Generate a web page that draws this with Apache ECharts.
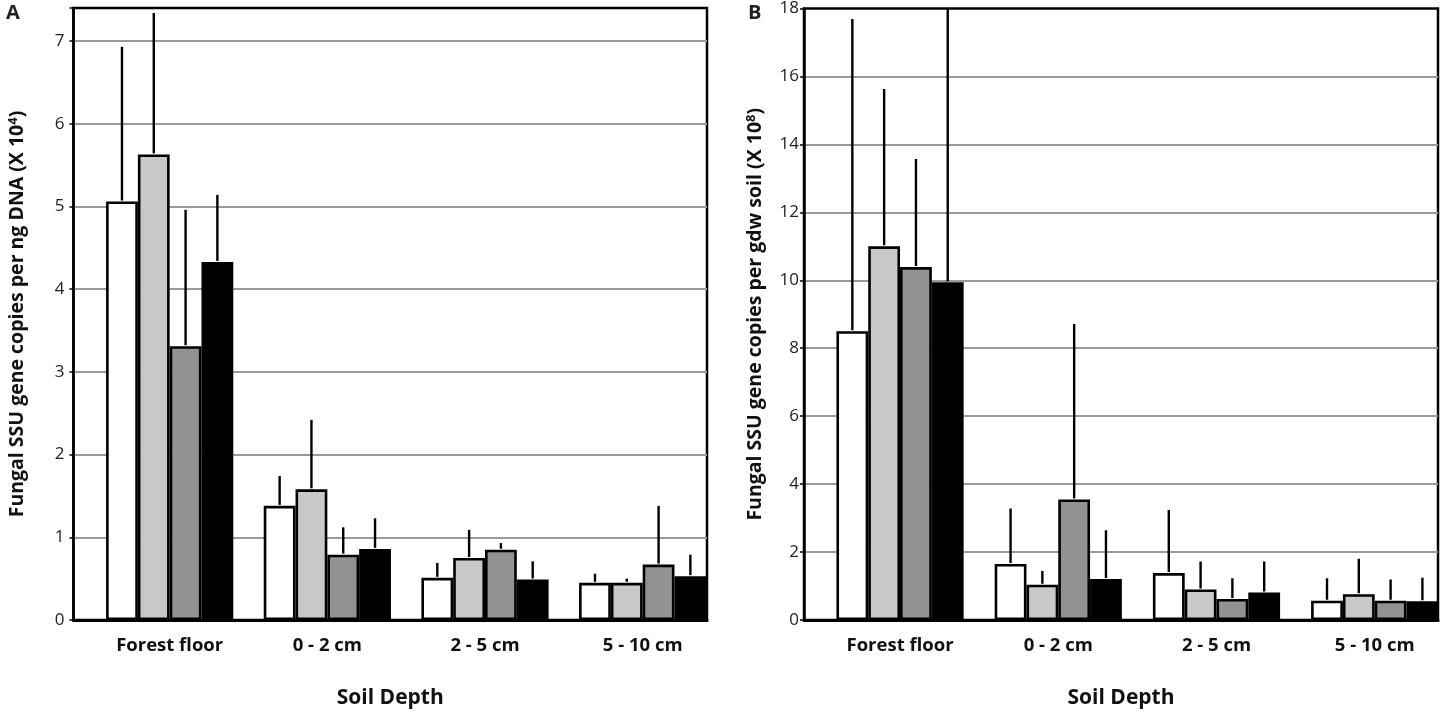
<!DOCTYPE html>
<html>
<head>
<meta charset="utf-8">
<script src="https://cdn.jsdelivr.net/npm/echarts@6/dist/echarts.min.js"></script>
<style>
  html, body { margin: 0; padding: 0; background: #fff; }
  #chart { width: 1440px; height: 714px; }
</style>
</head>
<body>
<div id="chart"></div>
<script>
// Catégories (profondeur du sol)
const categories = ['Forest floor', '0 - 2 cm', '2 - 5 cm', '5 - 10 cm'];
const yTicksA = [0, 1, 2, 3, 4, 5, 6, 7];
const yTicksB = [0, 2, 4, 6, 8, 10, 12, 14, 16, 18];

// Panneau A : copies par ng ADN (x 10^4)
const aWhite = [5.06, 1.38, 0.51, 0.45];
const aLight = [5.63, 1.58, 0.75, 0.45];
const aDark = [3.31, 0.79, 0.85, 0.67];
const aBlack = [4.33, 0.86, 0.49, 0.53];
const aWhiteErr = [1.87, 0.36, 0.18, 0.11];
const aLightErr = [1.71, 0.84, 0.34, 0.05];
const aDarkErr = [1.65, 0.33, 0.08, 0.71];
const aBlackErr = [0.81, 0.37, 0.22, 0.26];

// Panneau B : copies par g de sol sec (x 10^8)
const bWhite = [8.50, 1.65, 1.38, 0.57];
const bLight = [11.00, 1.04, 0.90, 0.76];
const bDark = [10.39, 3.55, 0.62, 0.57];
const bBlack = [9.94, 1.21, 0.81, 0.55];
const bWhiteErr = [9.19, 1.63, 1.86, 0.66];
const bLightErr = [4.63, 0.40, 0.82, 1.04];
const bDarkErr = [3.18, 5.16, 0.61, 0.62];
const bBlackErr = [9.50, 1.43, 0.91, 0.69];

const chart = echarts.init(document.getElementById('chart'));

const BAR_W = 31.8;
const colors = ['#ffffff', '#c8c8c8', '#929292', '#000000'];
const FONT = '"Open Sans", "Noto Sans", sans-serif';

function barSeries(values, k, idx) {
    return {
        type: 'bar',
        name: 'S' + (k + 1),
        xAxisIndex: idx,
        yAxisIndex: idx,
        barWidth: BAR_W,
        barGap: '0%',
        data: values.map((v, i) => [i, v]),
        itemStyle: { color: colors[k], borderColor: '#000', borderWidth: 2.6 },
        emphasis: { disabled: true },
        z: 2
    };
}

function errorSeries(groups, idx) {
    const data = [];
    groups.forEach((g, k) => {
        g[0].forEach((v, i) => data.push([i, v, g[1][i], k]));
    });
    return {
        type: 'custom',
        xAxisIndex: idx,
        yAxisIndex: idx,
        clip: true,
        z: 3,
        data: data,
        renderItem: (params, api) => {
            const x = api.value(0), v = api.value(1), e = api.value(2), k = api.value(3);
            const p0 = api.coord([x, v]);
            const p1 = api.coord([x, v + e]);
            const dx = (k - 1.5) * BAR_W;
            return {
                type: 'line',
                shape: { x1: p0[0] + dx, y1: p0[1] - 1, x2: p0[0] + dx, y2: p1[1] },
                style: { stroke: '#000', lineWidth: 2.4 }
            };
        }
    };
}

function xAxisDef(idx, min, max) {
    return {
        type: 'value',
        gridIndex: idx,
        min: min,
        max: max,
        name: 'Soil Depth',
        nameLocation: 'middle',
        nameGap: 68,
        nameTextStyle: { fontFamily: FONT, fontWeight: 'bold', fontSize: 21, color: '#111' },
        axisLine: { show: true, onZero: false, lineStyle: { color: '#000', width: 3 } },
        axisTick: { show: false },
        splitLine: { show: false },
        axisLabel: {
            customValues: [0, 1, 2, 3],
            formatter: v => categories[Math.round(v)],
            fontFamily: FONT, fontWeight: 'bold', fontSize: 18.5, color: '#111', margin: 16
        }
    };
}

function yAxisDef(idx, max, interval, ticks, name, gap, margin) {
    return {
        type: 'value',
        gridIndex: idx,
        min: 0,
        max: max,
        interval: interval,
        name: name,
        nameLocation: 'middle',
        nameGap: gap,
        nameTextStyle: {
            rich: {
                b: { fontFamily: FONT, fontWeight: 'bold', fontSize: 19.5, color: '#111' },
                sup: { fontFamily: FONT, fontWeight: 'bold', fontSize: 13, color: '#111', verticalAlign: 'top', padding: [0, 0, 8, 0] }
            }
        },
        axisLine: { show: true, onZero: false, lineStyle: { color: '#000', width: 2.5 } },
        axisTick: { show: true, length: 4, lineStyle: { color: '#000', width: 1.5 } },
        splitLine: { show: true, showMinLine: false, showMaxLine: false, lineStyle: { color: '#9a9a9a', width: 2 } },
        axisLabel: {
            formatter: v => (ticks.indexOf(v) >= 0 ? String(v) : ''),
            fontFamily: FONT, fontSize: 17, color: '#222', margin: margin
        }
    };
}

const option = {
    animation: false,
    grid: [
        { left: 73.5, top: 8, width: 633.5, height: 613.7, show: true, borderColor: '#000', borderWidth: 2.5, backgroundColor: 'transparent' },
        { left: 804, top: 8, width: 634, height: 613.7, show: true, borderColor: '#000', borderWidth: 2.5, backgroundColor: 'transparent' }
    ],
    xAxis: [
        xAxisDef(0, -0.610, 3.408),
        xAxisDef(1, -0.607, 3.400)
    ],
    yAxis: [
        yAxisDef(0, 7.4, 1, yTicksA, '{b|Fungal SSU gene copies per ng DNA (X 10}{sup|4}{b|)}', 46, 9),
        yAxisDef(1, 18, 2, yTicksB, '{b|Fungal SSU gene copies per gdw soil (X 10}{sup|8}{b|)}', 38, 5)
    ],
    graphic: [
        { type: 'text', left: 6, top: 3, style: { text: 'A', fontFamily: FONT, fontWeight: 'bold', fontSize: 20, fill: '#222' } },
        { type: 'text', left: 748, top: 3, style: { text: 'B', fontFamily: FONT, fontWeight: 'bold', fontSize: 20, fill: '#222' } }
    ],
    series: [
        barSeries(aWhite, 0, 0),
        barSeries(aLight, 1, 0),
        barSeries(aDark, 2, 0),
        barSeries(aBlack, 3, 0),
        errorSeries([[aWhite, aWhiteErr], [aLight, aLightErr], [aDark, aDarkErr], [aBlack, aBlackErr]], 0),
        barSeries(bWhite, 0, 1),
        barSeries(bLight, 1, 1),
        barSeries(bDark, 2, 1),
        barSeries(bBlack, 3, 1),
        errorSeries([[bWhite, bWhiteErr], [bLight, bLightErr], [bDark, bDarkErr], [bBlack, bBlackErr]], 1)
    ]
};

chart.setOption(option);

window.addEventListener('resize', () => {
    chart.resize();
});
</script>
</body>
</html>
